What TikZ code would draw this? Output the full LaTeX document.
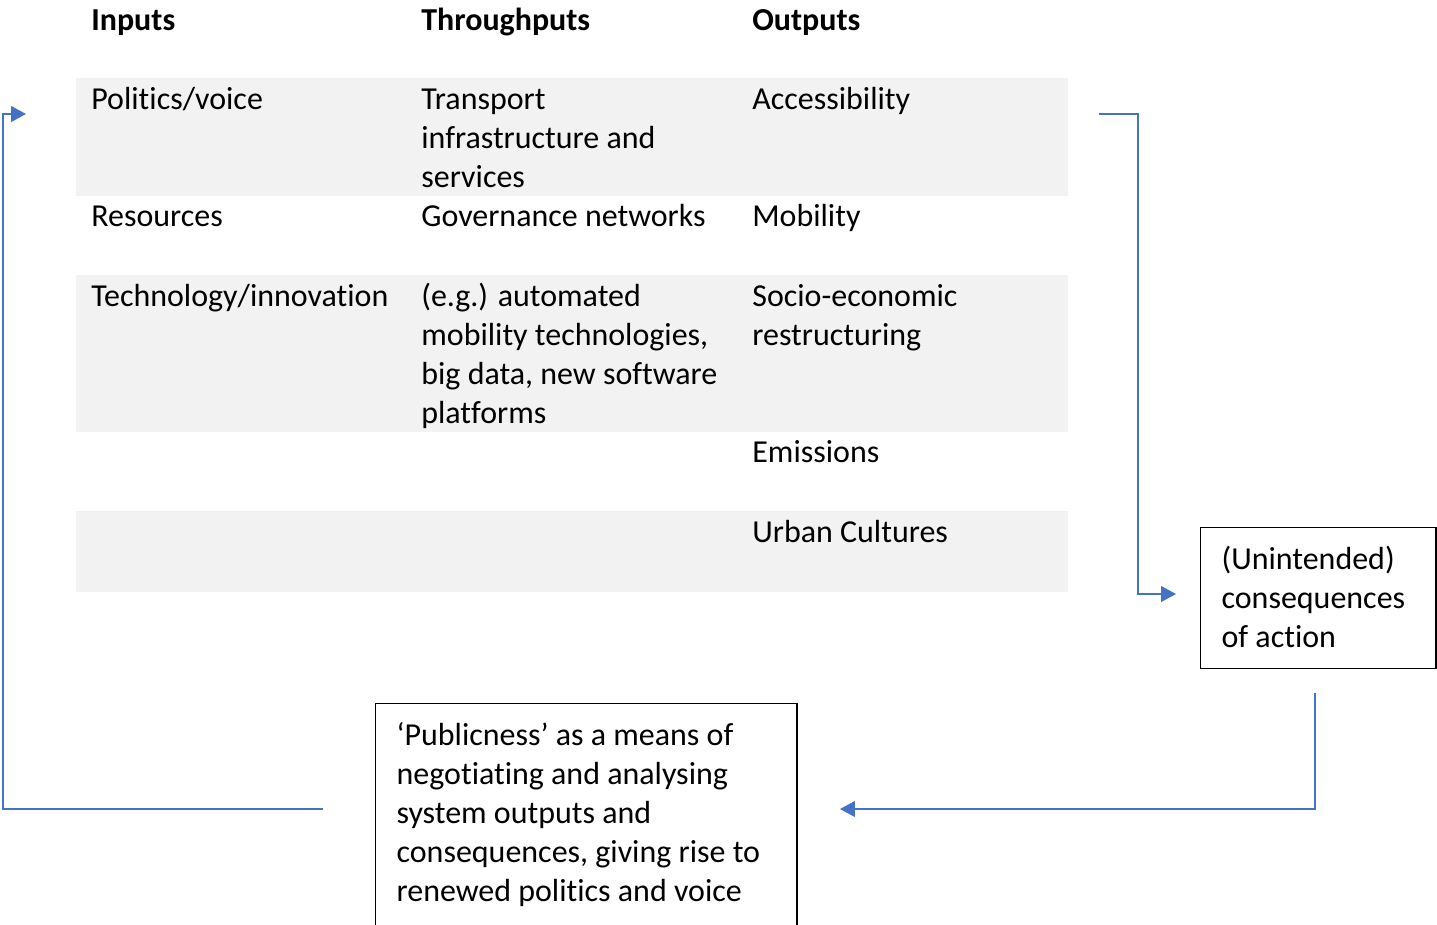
\documentclass[tikz,border=0pt]{standalone}
\usepackage{fontspec}
\setmainfont{Carlito}[Ligatures=NoCommon]
\usetikzlibrary{arrows.meta}
\definecolor{bandgray}{HTML}{F2F2F2}
\definecolor{flowblue}{HTML}{4472C4}
\tikzset{
    txt/.style={font=\fontsize{18.2}{22.1}\selectfont},
    cell/.style={txt, anchor=north west, inner sep=0pt, text width=180pt, align=flush left,
        execute at begin node={\spaceskip=0pt\xspaceskip=0pt\strut}},
    head/.style={cell, font=\fontsize{18.2}{22.1}\selectfont\bfseries},
    box/.style={txt, draw, line width=0.8pt, anchor=north west, inner xsep=11.9pt, inner ysep=5.4pt,
        align=flush left,
        execute at begin node={\spaceskip=0pt\xspaceskip=0pt\rule{0pt}{18.6pt}},
        execute at end node=\strut},
    flow/.style={draw=flowblue, line width=0.85pt, -{Triangle[length=8.5pt,width=9pt]}}
}
\begin{document}
\begin{tikzpicture}[x=0.02cm,y=-0.02cm]
        \useasboundingbox (0,0) rectangle (1437,924);
        % shaded rows of the table
        \foreach \top/\bot in {78/196,275/432,511/592}
            \fill[bandgray] (76,\top) rectangle (1068,\bot);
        % headers
        \node[head] (hin) at (91,3) {Inputs};
        \node[head] (hthru) at (421,3) {Throughputs};
        \node[head] (hout) at (752,3) {Outputs};
        % rows
        \node[cell] (politics) at (91,82) {Politics/voice};
        \node[cell] (transport) at (421,82) {Transport\\infrastructure and\\services};
        \node[cell] (access) at (752,82) {Accessibility};
        \node[cell] (resources) at (91,199) {Resources};
        \node[cell] (governance) at (421,199) {Governance networks};
        \node[cell] (mobility) at (752,199) {Mobility};
        \node[cell] (technology) at (91,279) {Technology/innovation};
        \node[cell] (automated) at (421,279) {(e.g.) automated\\mobility technologies,\\big data, new software\\platforms};
        \node[cell] (socio) at (752,279) {Socio-economic\\restructuring};
        \node[cell] (emissions) at (752,435) {Emissions};
        \node[cell] (cultures) at (752,515) {Urban Cultures};
        % boxes
        \node[box, text width=110pt] (unint) at (1200,527)
            {(Unintended)\\consequences\\of action};
        \node[box, text width=216pt, execute at end node={\rule[-14pt]{0pt}{14pt}}] (public) at (375,703)
            {`Publicness' as a means of\\negotiating and analysing\\system outputs and\\consequences, giving rise to\\renewed politics and voice};
        % loop of arrows
        \coordinate (tabout) at (1099,114);
        \coordinate (unintin) at (1176,594);
        \coordinate (unintout) at (1315,693);
        \coordinate (publicin) at (840,809);
        \coordinate (publicout) at (323,809);
        \coordinate (tabin) at (26,114);
        \draw[flow] (tabout) -- ++(39,0) |- (unintin);
        \draw[flow] (unintout) |- (publicin);
        \draw[flow] (publicout) -- ++(-320,0) |- (tabin);
    \end{tikzpicture}
\end{document}
